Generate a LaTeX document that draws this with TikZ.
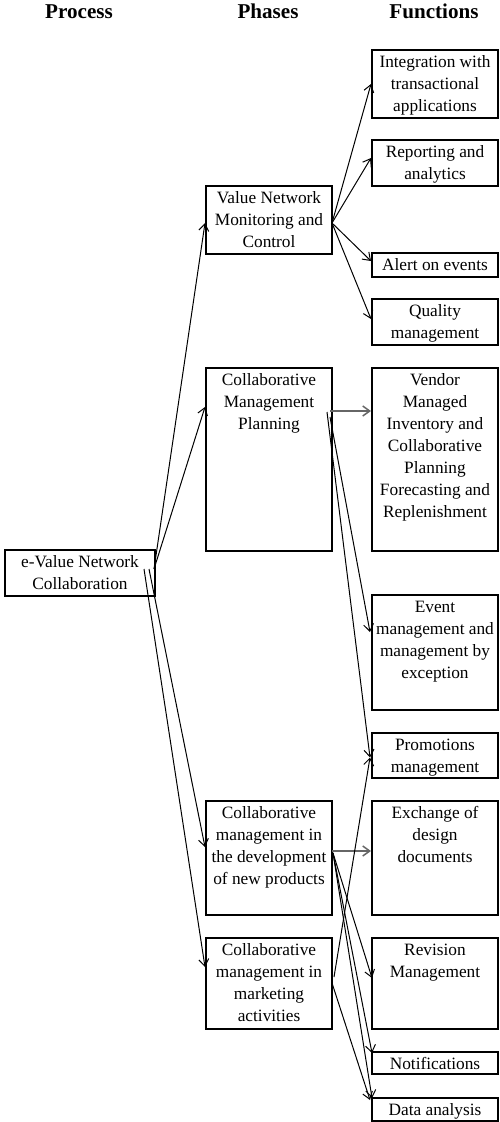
\documentclass[tikz,border=0pt]{standalone}
\usepackage{fontspec}
\setmainfont{Liberation Serif}
\usetikzlibrary{arrows.meta}

\newcommand\bodyfont{\fontsize{17.3}{22}\selectfont}
% box contents: width, height, centred lines hung from the top
\newcommand\fbody[3]{\parbox[c][#2][t]{#1}{\centering\rule{0pt}{17pt}#3\par}}

\tikzset{
  frame/.style={draw, line width=2pt, inner sep=0pt, anchor=north west, font=\bodyfont},
  hdr/.style={anchor=base, inner sep=0pt, font=\fontsize{21.1}{25}\selectfont\bfseries},
  link/.style={line width=1pt, -{Straight Barb[length=7pt,width=10pt]}},
  feed/.style={link, draw=black!60, line width=1.5pt},
}

\begin{document}
\begin{tikzpicture}[x=1pt, y=-1pt]
\useasboundingbox (0,0) rectangle (499,1122);

% column headings
\node[hdr] (hproc) at (79,18) {Process};
\node[hdr] (hphase) at (268,18) {Phases};
\node[hdr] (hfunc) at (434,18) {Functions};

% process
\node[frame] (evnc) at (4,549) {\fbody{150pt}{46pt}{e-Value Network\\Collaboration}};

% phases
\node[frame] (vnmc) at (205,185) {\fbody{126pt}{68pt}{Value Network\\Monitoring and\\Control}};
\node[frame] (cmp) at (205,367) {\fbody{126pt}{183pt}{Collaborative\\Management\\Planning}};
\node[frame] (cmdnp) at (205,800) {\fbody{126pt}{114pt}{Collaborative\\management in\\the development\\of new products}};
\node[frame] (cmma) at (205,937) {\fbody{126pt}{91pt}{Collaborative\\management in\\marketing\\activities}};

% functions
\node[frame] (integ) at (371,49) {\fbody{126pt}{68pt}{Integration with\\transactional\\applications}};
\node[frame] (report) at (371,139) {\fbody{126pt}{46pt}{Reporting and\\analytics}};
\node[frame] (alert) at (371,252) {\fbody{126pt}{24pt}{Alert on events}};
\node[frame] (quality) at (371,298) {\fbody{126pt}{46pt}{Quality\\management}};
\node[frame] (vendor) at (371,367) {\fbody{126pt}{183pt}{Vendor\\Managed\\Inventory and\\Collaborative\\Planning\\Forecasting and\\Replenishment}};
\node[frame] (event) at (371,594) {\fbody{126pt}{115pt}{Event\\management and\\management by\\exception}};
\node[frame] (promo) at (371,732) {\fbody{126pt}{45pt}{Promotions\\management}};
\node[frame] (exch) at (371,800) {\fbody{126pt}{114pt}{Exchange of\\design\\documents}};
\node[frame] (revision) at (371,937) {\fbody{126pt}{91pt}{Revision\\Management}};
\node[frame] (notif) at (371,1051) {\fbody{126pt}{22pt}{Notifications}};
\node[frame] (data) at (371,1097) {\fbody{126pt}{23pt}{Data analysis}};

% process -> phases
\draw[link] ([shift={(-2,-4)}]evnc.east) -- ([shift={(0,3)}]vnmc.west);
\draw[link] ([shift={(-2,-4)}]evnc.east) -- ([shift={(0,40)}]cmp.north west);
\draw[link] ([shift={(-7,-4)}]evnc.east) -- ([shift={(0,47)}]cmdnp.north west);
\draw[link] ([shift={(-12,-4)}]evnc.east) -- ([shift={(0,30)}]cmma.north west);

% monitoring and control
\draw[link] ([shift={(-1,3)}]vnmc.east) -- (integ.west);
\draw[link] ([shift={(-1,3)}]vnmc.east) -- ([shift={(0,-5)}]report.west);
\draw[link] ([shift={(-1,3)}]vnmc.east) -- ([shift={(0,-4)}]alert.west);
\draw[link] ([shift={(-1,3)}]vnmc.east) -- ([shift={(0,-3)}]quality.west);

% management planning
\draw[feed] ([shift={(-3,44)}]cmp.north east) -- ([shift={(0,44)}]vendor.north west);
\draw[link] ([shift={(-6,45)}]cmp.north east) -- ([shift={(-1,2)}]promo.west);
\draw[link] ([shift={(-3,50)}]cmp.north east) -- ([shift={(-1,38)}]event.north west);

% development of new products
\draw[feed] ([shift={(-1,51)}]cmdnp.north east) -- ([shift={(0,51)}]exch.north west);
\draw[link] ([shift={(0,53)}]cmdnp.north east) -- ([shift={(1,41)}]revision.north west);
\draw[link] ([shift={(0,53)}]cmdnp.north east) -- ([shift={(1,2)}]notif.north west);
\draw[link] ([shift={(0,53)}]cmdnp.north east) -- ([shift={(1,1)}]data.north west);

% marketing activities
\draw[link] ([shift={(1,40)}]cmma.north east) -- ([shift={(-1,2)}]promo.west);
\draw[link] ([shift={(-1,46)}]cmma.north east) -- ([shift={(-1,3)}]data.north west);
\end{tikzpicture}
\end{document}
